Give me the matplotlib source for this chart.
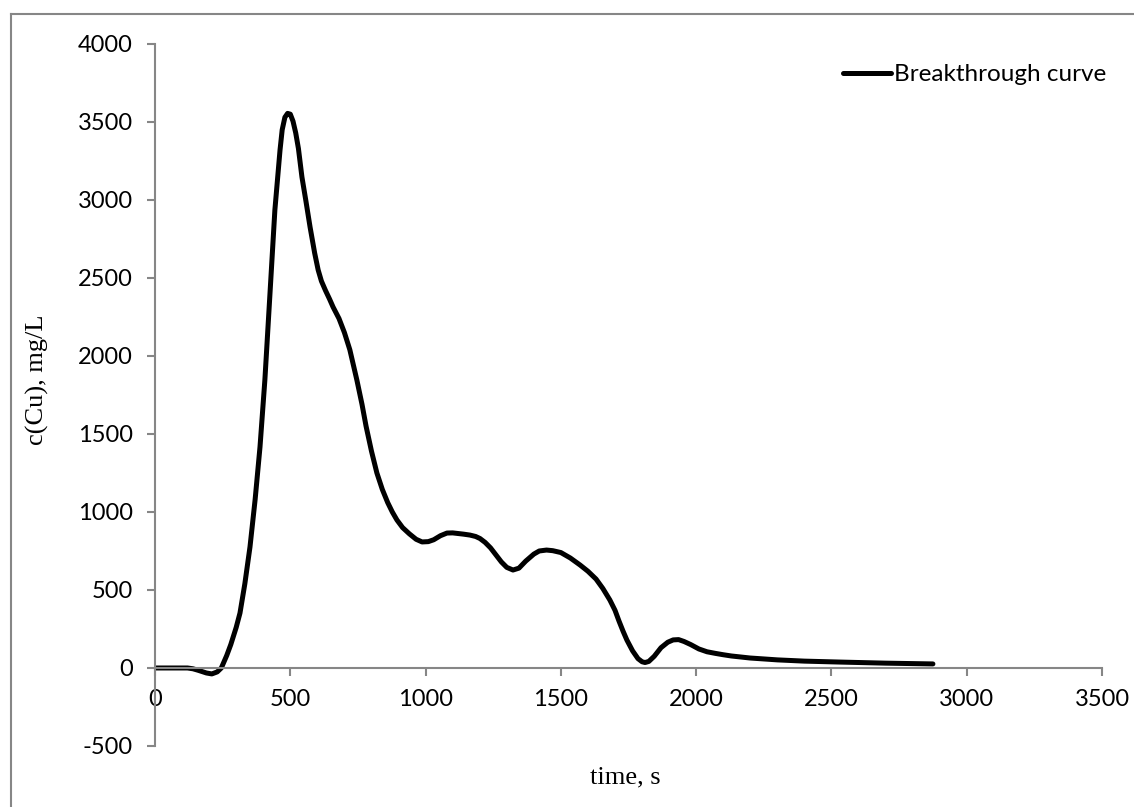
import matplotlib.pyplot as plt
from matplotlib.lines import Line2D

plt.rcParams['axes.unicode_minus'] = False

# breakthrough curve readings
time_s = [0, 60, 120, 140, 160, 190, 210, 230, 245, 265, 280, 300, 314, 332,
          351, 370, 388, 406, 425, 443, 462, 470, 480, 490, 500, 510, 520,
          530, 543, 558, 573, 590, 603, 615, 630, 645, 658, 680, 700, 720,
          746, 765, 780, 800, 820, 840, 860, 877, 894, 915, 940, 965, 987,
          1010, 1030, 1055, 1079, 1100, 1120, 1140, 1164, 1185, 1201, 1220,
          1240, 1260, 1280, 1300, 1323, 1345, 1370, 1400, 1420, 1447, 1470,
          1500, 1535, 1571, 1600, 1630, 1655, 1681, 1700, 1715, 1730, 1744,
          1765, 1785, 1800, 1811, 1825, 1845, 1870, 1895, 1915, 1935, 1955,
          1980, 2010, 2040, 2070, 2100, 2130, 2162, 2199, 2250, 2300, 2400,
          2531, 2700, 2875]
conc_cu = [0, 0, 0, -5, -15, -32, -38, -25, 0, 80, 150, 260, 352, 540,
           776, 1080, 1417, 1846, 2404, 2936, 3320, 3450, 3530, 3555, 3550,
           3505, 3430, 3330, 3147, 2990, 2827, 2660, 2551, 2480, 2420, 2365,
           2314, 2240, 2150, 2040, 1846, 1690, 1550, 1390, 1250, 1145, 1060,
           1000, 949, 900, 860, 825, 808, 810, 822, 848, 865, 866, 862, 858,
           852, 843, 830, 805, 770, 725, 680, 645, 628, 640, 685, 730, 750,
           756, 752, 740, 705, 660, 620, 570, 510, 436, 370, 300, 235, 179,
           110, 60, 40, 35, 42, 75, 130, 165, 180, 182, 170, 150, 122, 104,
           94, 85, 77, 71, 64, 58, 52, 44, 38, 31, 26]

x_ticks = [0, 500, 1000, 1500, 2000, 2500, 3000, 3500]
y_ticks = [-500, 0, 500, 1000, 1500, 2000, 2500, 3000, 3500, 4000]

axis_gray = '#868686'
tick_font = 'Lato'

fig = plt.figure(figsize=(11.34, 8.07), dpi=100)
ax = fig.add_axes([0.1367, 0.0756, 0.8351, 0.8699])

ax.plot(time_s, conc_cu, color='black', lw=3.6, solid_capstyle='round',
        solid_joinstyle='round', label='Breakthrough curve')

ax.set_xlim(0, 3500)
ax.set_ylim(-500, 4000)
ax.set_xticks(x_ticks)
ax.set_yticks(y_ticks)

# excel-like axes: x axis runs through zero
ax.spines['top'].set_visible(False)
ax.spines['right'].set_visible(False)
ax.spines['bottom'].set_position(('data', 0))
for s in ('left', 'bottom'):
    ax.spines[s].set_color(axis_gray)
    ax.spines[s].set_linewidth(1.5)
ax.tick_params(axis='both', direction='out', length=6, width=1.5,
               color=axis_gray, labelsize=17)
ax.tick_params(axis='y', pad=10)
ax.tick_params(axis='x', pad=9)
for lab in ax.get_xticklabels() + ax.get_yticklabels():
    lab.set_fontfamily(tick_font)

fig.text(37 / 1134, 1 - 380 / 807, 'c(Cu), mg/L', rotation=90,
         family='Liberation Serif', fontsize=19, ha='center', va='center')
fig.text(625 / 1134, 1 - 777 / 807, 'time, s', family='Liberation Serif',
         fontsize=19, ha='center', va='center')

leg = ax.legend(loc='upper right', frameon=False, handlelength=2.0,
                handletextpad=0.1, borderpad=0, borderaxespad=0,
                bbox_to_anchor=(1106 / 1134, 1 - 64 / 807),
                bbox_transform=fig.transFigure,
                prop={'family': tick_font, 'size': 17.5})

# chart area border (left and top edges)
fig.add_artist(Line2D([11 / 1134, 11 / 1134], [0, 1 - 14 / 807],
                      transform=fig.transFigure, color=axis_gray, lw=1.5))
fig.add_artist(Line2D([11 / 1134, 1], [1 - 14 / 807, 1 - 14 / 807],
                      transform=fig.transFigure, color=axis_gray, lw=1.5))

fig.savefig('out.png', dpi=100)
